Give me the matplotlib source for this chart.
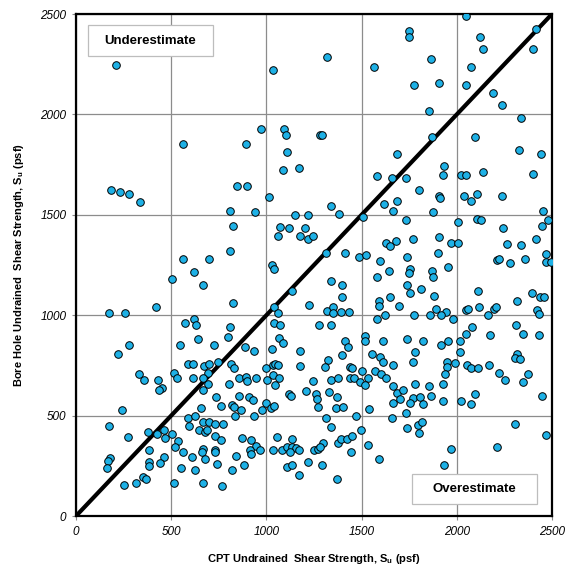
import matplotlib
matplotlib.use("Agg")
import matplotlib.pyplot as plt
from matplotlib.patches import Rectangle

plt.rcParams["font.family"] = ["Liberation Sans", "DejaVu Sans"]

# CPT vs bore hole undrained shear strength (psf)
PTS = [
    (208, 2246), (560, 1852),
    (1318, 2287), (1036, 2221), (1565, 2236), (973, 1926), (895, 1852), (1094, 1926),
    (1105, 1896), (1283, 1899), (1290, 1895), (1110, 1813), (1171, 1735), (1089, 1723),
    (1581, 1695), (1661, 1685),
    (2050, 2492), (1751, 2417), (1751, 2387), (2122, 2387), (2416, 2427), (2139, 2327),
    (2398, 2327), (1865, 2276), (2075, 2238), (1775, 2148), (1906, 2158), (2050, 2148),
    (2192, 2108), (2239, 2047), (1856, 2018), (2339, 1984), (1870, 1889), (2097, 1889),
    (1684, 1804), (2328, 1821), (2442, 1803), (1933, 1745), (1929, 1700), (2022, 1700),
    (2050, 1697), (2139, 1713), (2398, 1705), (1733, 1683),
    (186, 1624), (233, 1612), (277, 1604), (338, 1564), (847, 1643), (900, 1643),
    (811, 1519), (823, 1444), (807, 1320), (560, 1280), (700, 1280), (618, 1215),
    (502, 1180), (669, 1150), (422, 1041), (172, 1009), (256, 1009), (823, 1061),
    (618, 981), (574, 960), (630, 950), (807, 941), (800, 891), (642, 881), (726, 852),
    (280, 852), (548, 852), (219, 805),
    (1015, 1590), (1341, 1544), (1381, 1504), (942, 1514), (1148, 1499), (1220, 1499),
    (1509, 1487), (1618, 1554), (1073, 1439), (1120, 1434), (1204, 1434), (1059, 1394),
    (1176, 1394), (1220, 1381), (1243, 1394), (1626, 1361), (1649, 1345), (1314, 1310),
    (1414, 1310), (1486, 1288), (1524, 1298), (1029, 1252), (1041, 1230), (1598, 1270),
    (1642, 1222), (1581, 1190), (1341, 1172), (1396, 1149), (1132, 1120), (1398, 1091),
    (1651, 1091), (1589, 1072), (1589, 1046), (1225, 1051), (1041, 1041), (1062, 1013),
    (1320, 1021), (1351, 1043), (1351, 1013), (1393, 1015), (1434, 1015), (1624, 1001),
    (1581, 980), (1041, 960), (1069, 950), (1278, 950), (1339, 950), (1518, 896),
    (1518, 870), (1614, 870), (1067, 888), (1089, 860), (1414, 871), (1429, 843),
    (887, 843), (935, 823), (1031, 832), (1176, 823),
    (1803, 1624), (1687, 1569), (1906, 1595), (1913, 1582), (2038, 1595), (2108, 1604),
    (2075, 1569), (2237, 1595), (1875, 1514), (1667, 1519), (2452, 1519), (1733, 1474),
    (2006, 1466), (2108, 1479), (2129, 1474), (2481, 1474), (2447, 1444), (2243, 1434),
    (1681, 1370), (1770, 1381), (1906, 1389), (1967, 1360), (2007, 1360), (2416, 1379),
    (2264, 1355), (2336, 1350), (1740, 1290), (1903, 1311), (2468, 1305), (2209, 1275),
    (2221, 1281), (2279, 1260), (2357, 1280), (2468, 1265), (2496, 1265), (1953, 1240),
    (1754, 1232), (1751, 1209), (1871, 1220), (1875, 1189), (1740, 1149), (1756, 1109),
    (1812, 1129), (1880, 1096), (2111, 1120), (2397, 1109), (2437, 1091), (2458, 1091),
    (2316, 1071), (1698, 1046), (1891, 1031), (1945, 1016), (1919, 1003), (1861, 1001),
    (2051, 1026), (2060, 1031), (2116, 1041), (2195, 1032), (2207, 1041), (2162, 1001),
    (2419, 1026), (2431, 1004), (1775, 1001), (1980, 981), (2080, 941), (2048, 906),
    (2311, 951), (2348, 906), (2431, 901), (2174, 901), (1740, 880), (1822, 870),
    (1953, 870), (1917, 852), (2017, 870),
    (333, 706), (356, 676), (432, 676), (450, 639), (438, 626), (516, 714), (529, 687),
    (588, 757), (616, 757), (674, 747), (697, 757), (747, 767), (812, 757), (830, 736),
    (693, 714), (616, 687), (669, 687), (695, 656), (805, 656), (669, 626), (735, 593),
    (760, 546), (818, 553), (830, 544), (658, 536), (243, 526), (590, 487), (627, 498),
    (595, 448), (665, 468), (700, 468), (728, 458), (774, 458), (648, 427), (678, 417),
    (690, 428), (835, 498), (175, 447), (274, 395), (380, 417), (427, 410), (462, 427),
    (506, 407), (469, 387), (537, 374), (522, 342), (560, 319), (731, 397), (760, 377),
    (665, 332), (662, 319), (731, 329), (731, 319), (381, 329), (608, 294), (679, 282),
    (462, 294), (441, 262), (381, 270), (381, 249), (179, 289), (170, 275), (161, 239),
    (740, 257), (550, 237), (627, 229), (817, 229), (354, 196), (368, 184), (317, 163),
    (254, 154), (513, 163), (669, 163), (765, 149), (840, 299),
    (855, 686), (893, 694), (900, 674), (947, 686), (1000, 736), (1033, 752), (1047, 757),
    (1062, 750), (1036, 702), (1001, 677), (1067, 686), (1047, 652), (1176, 747),
    (1246, 674), (1209, 624), (1118, 608), (1129, 598), (1325, 777), (1308, 741),
    (1396, 802), (1339, 677), (1374, 686), (1438, 744), (1451, 736), (1438, 686),
    (1461, 686), (1491, 666), (1500, 722), (1535, 686), (1519, 652), (1554, 807),
    (1597, 790), (1614, 768), (1573, 722), (1603, 707), (1627, 686), (1667, 752),
    (1667, 647), (1260, 608), (1266, 581), (1270, 544), (1330, 616), (1371, 591),
    (1365, 536), (1400, 541), (1540, 531), (1667, 564), (1469, 498), (1313, 487),
    (1341, 442), (1498, 428), (1661, 487), (858, 598), (910, 594), (928, 578), (865, 526),
    (1000, 561), (975, 526), (935, 498), (1026, 536), (1040, 548), (870, 387), (917, 378),
    (948, 349), (914, 329), (917, 309), (966, 329), (882, 254), (1057, 395), (1036, 329),
    (1080, 329), (1106, 345), (1134, 382), (1132, 345), (1155, 337), (1124, 320),
    (1173, 329), (1110, 243), (1132, 253), (1172, 204), (1220, 269), (1252, 329),
    (1269, 332), (1299, 362), (1281, 345), (1293, 253), (1372, 183), (1377, 362),
    (1390, 382), (1425, 382), (1448, 398), (1443, 320), (1533, 352), (1593, 282),
    (1781, 818), (2017, 818), (2315, 807), (2305, 785), (2332, 780), (1768, 768),
    (1946, 768), (1950, 741), (1937, 707), (1990, 760), (2055, 752), (2073, 736),
    (2109, 736), (2171, 752), (2221, 714), (2253, 677), (2348, 667), (2376, 707),
    (1684, 614), (1719, 627), (1702, 581), (1780, 657), (1855, 647), (1929, 657),
    (1770, 586), (1753, 564), (1806, 591), (1824, 558), (1865, 598), (1929, 574),
    (2022, 574), (2075, 558), (2097, 606), (2450, 598), (1733, 511), (1740, 437),
    (1798, 453), (1815, 470), (1800, 415), (2305, 458), (2466, 403), (2209, 342),
    (1969, 334), (1932, 254),
]
cpt_su = [p[0] for p in PTS]
bore_su = [p[1] for p in PTS]

TICKS = [0, 500, 1000, 1500, 2000, 2500]


def main():
    fig = plt.figure(figsize=(5.71, 5.79), dpi=100)
    ax = fig.add_axes([0.1331, 0.1088, 0.8336, 0.867])

    ax.set_xlim(0, 2500)
    ax.set_ylim(0, 2500)
    ax.set_xticks(TICKS)
    ax.set_yticks(TICKS)
    ax.set_xticklabels([str(t) for t in TICKS], fontstyle="italic", fontsize=8.5)
    ax.set_yticklabels([str(t) for t in TICKS], fontstyle="italic", fontsize=8.5)
    ax.tick_params(direction="out", length=3, color="#888888", pad=4)
    ax.grid(True, color="#8c8c8c", lw=0.9)
    ax.set_axisbelow(True)
    for s in ax.spines.values():
        s.set_linewidth(1.6)
        s.set_color("black")

    # 1:1 line
    ax.plot([0, 2500], [0, 2500], color="black", lw=3, zorder=2)

    ax.scatter(cpt_su, bore_su, s=30, c="#1EB1E6", edgecolors="black",
               linewidths=0.7, zorder=3)

    # label boxes
    for (x0, y0, w, h), label in [((0.025, 0.916, 0.263, 0.062), "Underestimate"),
                                  ((0.706, 0.024, 0.262, 0.060), "Overestimate")]:
        ax.add_patch(Rectangle((x0, y0), w, h, transform=ax.transAxes,
                               facecolor="white", edgecolor="#bdbdbd", lw=0.9, zorder=4))
        ax.text(x0 + w / 2, y0 + h / 2, label, transform=ax.transAxes,
                ha="center", va="center", fontsize=9.5, fontweight="bold", zorder=5)

    ax.set_xlabel("CPT Undrained  Shear Strength, S$_\\mathregular{u}$ (psf)",
                  fontsize=8, fontweight="bold", labelpad=10)
    ax.set_ylabel("Bore Hole Undrained  Shear Strength, S$_\\mathregular{u}$ (psf)",
                  fontsize=8, fontweight="bold", labelpad=10)

    fig.savefig("out.png", dpi=100)
    plt.close(fig)


if __name__ == "__main__":
    main()
